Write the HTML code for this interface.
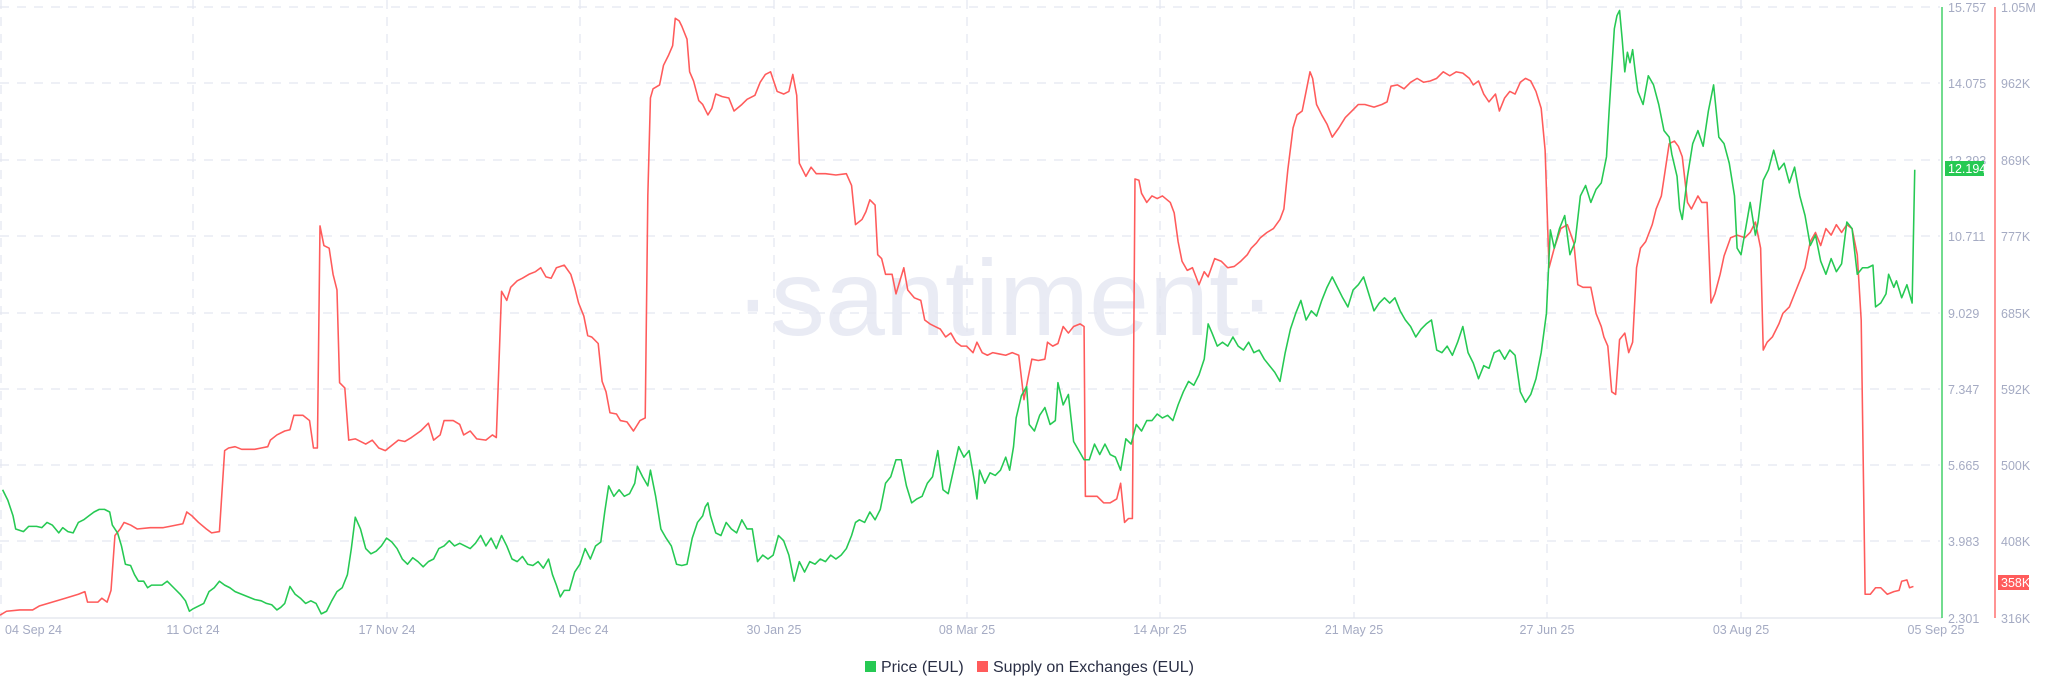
<!DOCTYPE html>
<html><head><meta charset="utf-8"><style>
html,body{margin:0;padding:0;background:#fff;}
svg{display:block;font-family:"Liberation Sans",sans-serif;}
</style></head><body>
<svg width="2048" height="693" viewBox="0 0 2048 693" xmlns="http://www.w3.org/2000/svg">
<text x="1005" y="335" text-anchor="middle" font-size="108" fill="#e9ebf4" font-family="Liberation Sans,sans-serif">·santiment·</text>
<g stroke="#e4e7f0" stroke-width="1.3" stroke-dasharray="9,8" fill="none">
<line x1="0" y1="7" x2="1940" y2="7"/><line x1="0" y1="83" x2="1940" y2="83"/><line x1="0" y1="160" x2="1940" y2="160"/><line x1="0" y1="236" x2="1940" y2="236"/><line x1="0" y1="313" x2="1940" y2="313"/><line x1="0" y1="389" x2="1940" y2="389"/><line x1="0" y1="465" x2="1940" y2="465"/><line x1="0" y1="541" x2="1940" y2="541"/>
<line x1="1" y1="0" x2="1" y2="618"/><line x1="193" y1="0" x2="193" y2="618"/><line x1="387" y1="0" x2="387" y2="618"/><line x1="580" y1="0" x2="580" y2="618"/><line x1="774" y1="0" x2="774" y2="618"/><line x1="967" y1="0" x2="967" y2="618"/><line x1="1160" y1="0" x2="1160" y2="618"/><line x1="1354" y1="0" x2="1354" y2="618"/><line x1="1547" y1="0" x2="1547" y2="618"/><line x1="1741" y1="0" x2="1741" y2="618"/>
</g>
<line x1="0" y1="618" x2="1942" y2="618" stroke="#e0e3ec" stroke-width="1.3"/>
<line x1="1942" y1="7" x2="1942" y2="618" stroke="#26c953" stroke-width="1.3"/>
<line x1="1995" y1="7" x2="1995" y2="618" stroke="#ff5b5b" stroke-width="1.3"/>
<g font-size="12.5" fill="#a5abc3">
<text x="1948" y="12">15.757</text><text x="1948" y="88">14.075</text><text x="1948" y="165">12.393</text><text x="1948" y="241">10.711</text><text x="1948" y="318">9.029</text><text x="1948" y="394">7.347</text><text x="1948" y="470">5.665</text><text x="1948" y="546">3.983</text><text x="1948" y="623">2.301</text>
<text x="2001" y="12">1.05M</text><text x="2001" y="88">962K</text><text x="2001" y="165">869K</text><text x="2001" y="241">777K</text><text x="2001" y="318">685K</text><text x="2001" y="394">592K</text><text x="2001" y="470">500K</text><text x="2001" y="546">408K</text><text x="2001" y="623">316K</text>
<text x="5" y="634">04 Sep 24</text><text x="193" y="634" text-anchor="middle">11 Oct 24</text><text x="387" y="634" text-anchor="middle">17 Nov 24</text><text x="580" y="634" text-anchor="middle">24 Dec 24</text><text x="774" y="634" text-anchor="middle">30 Jan 25</text><text x="967" y="634" text-anchor="middle">08 Mar 25</text><text x="1160" y="634" text-anchor="middle">14 Apr 25</text><text x="1354" y="634" text-anchor="middle">21 May 25</text><text x="1547" y="634" text-anchor="middle">27 Jun 25</text><text x="1741" y="634" text-anchor="middle">03 Aug 25</text><text x="1936" y="634" text-anchor="middle">05 Sep 25</text>
</g>
<rect x="1945" y="161" width="39" height="15" fill="#26c953"/><text x="1948" y="173" font-size="12.5" fill="#fff">12.194</text>
<rect x="1998" y="575" width="31" height="15" fill="#ff5b5b"/><text x="2001" y="587" font-size="12.5" fill="#fff">358K</text>
<g transform="scale(1.3061)" fill="none" stroke-width="1.2" stroke-linejoin="round">
<polyline stroke="#ff5b5b" points="0,471 5,468 15,467 25,467 30,464 40,461 50,458 60,455 65,453 67,461 75,461 78,458 82,461 85,452 88,410 92,405 95,400 100,402 105,405 115,404 125,404 130,403 140,401 143,392 147,395 152,400 158,405 162,408 168,407 172,345 175,343 180,342 185,344 195,344 200,343 205,342 207,337 212,333 218,330 222,329 225,318 232,318 237,322 240,343 243,343 245,173 248,188 252,190 255,210 258,222 260,293 264,297 267,337 272,336 276,338 280,340 285,337 290,343 295,345 300,341 305,337 310,338 315,335 322,330 328,324 332,337 337,333 340,322 347,322 352,325 355,333 360,330 365,336 372,337 377,333 380,335 384,223 388,230 391,220 396,215 400,213 405,210 410,208 414,205 418,212 422,213 426,205 432,203 437,210 440,220 443,232 447,242 450,257 453,258 458,263 461,292 464,300 467,316 472,317 475,322 480,323 485,330 490,322 494,320 496,150 498,75 500,68 505,65 508,50 512,42 515,35 517,14 520,16 522,20 526,30 528,55 531,62 535,77 538,80 542,88 545,83 548,72 553,74 558,75 562,85 568,80 572,76 578,73 582,63 586,57 590,55 595,70 600,72 604,70 607,57 610,73 612,125 617,135 621,128 625,133 632,133 640,134 648,133 652,142 655,172 660,168 663,162 666,153 670,157 672,195 675,198 678,210 683,210 686,225 692,205 695,222 700,228 705,230 708,245 712,248 716,250 720,252 724,258 728,255 732,262 736,265 740,265 745,270 748,262 752,270 756,272 760,270 765,271 770,272 775,270 780,272 784,306 787,290 790,275 795,276 800,275 802,262 806,265 810,263 814,250 818,255 822,250 827,248 830,250 831,380 836,380 840,380 845,385 850,385 855,382 858,370 861,400 864,397 867,397 869,137 872,138 874,148 878,155 882,150 886,152 890,150 896,155 899,163 902,185 905,200 909,207 913,205 918,218 922,208 925,212 930,198 935,200 940,205 945,204 950,200 955,195 958,190 962,186 965,182 970,178 975,175 980,168 983,160 986,130 990,98 993,88 997,85 1000,70 1003,55 1005,60 1008,80 1012,88 1016,95 1020,105 1025,98 1030,90 1035,85 1040,80 1045,80 1052,82 1058,80 1062,78 1065,66 1070,65 1075,68 1080,63 1085,60 1090,63 1095,62 1100,60 1105,55 1110,58 1115,55 1120,56 1125,60 1128,65 1132,62 1136,72 1140,78 1145,72 1148,85 1152,75 1156,70 1160,72 1164,63 1168,60 1172,62 1176,70 1180,83 1183,115 1186,205 1190,190 1195,175 1200,172 1205,186 1208,218 1212,220 1218,220 1222,240 1226,250 1228,258 1231,265 1234,300 1237,302 1240,260 1244,255 1247,270 1250,262 1253,205 1256,190 1260,185 1265,172 1268,160 1272,150 1275,130 1278,110 1282,108 1285,112 1288,120 1292,155 1295,160 1300,150 1303,155 1307,155 1310,232 1313,225 1317,210 1320,196 1325,182 1330,180 1336,182 1340,178 1344,170 1348,190 1350,268 1353,262 1357,258 1362,248 1365,240 1370,235 1374,225 1378,215 1382,205 1386,185 1390,178 1394,188 1398,175 1402,180 1406,172 1410,178 1414,172 1418,175 1422,195 1425,245 1428,455 1432,455 1436,450 1440,450 1445,455 1450,453 1454,452 1456,445 1460,444 1462,450 1465,449"/>
<polyline stroke="#26c953" points="2,375 6,383 10,395 12,405 18,407 22,403 28,403 32,404 36,400 40,402 45,408 48,404 52,407 56,408 60,400 64,398 68,395 72,392 76,390 80,390 84,392 86,402 90,408 93,418 96,432 100,433 103,440 106,445 110,445 113,450 116,448 120,448 124,448 128,445 133,450 138,455 142,460 145,468 148,466 152,464 156,462 160,453 164,450 168,445 172,448 176,450 180,453 185,455 190,457 195,459 200,460 204,462 208,463 212,467 215,465 218,462 222,449 226,455 230,458 234,462 238,460 242,462 246,470 250,468 254,460 258,453 262,450 266,440 269,420 272,396 276,405 280,420 284,424 288,422 292,418 296,412 300,415 304,420 308,428 312,432 316,427 320,430 324,434 328,430 332,428 336,420 340,418 344,414 348,418 352,416 356,418 360,420 364,416 368,410 372,418 376,412 380,420 384,410 388,418 392,428 396,430 400,426 404,432 408,433 412,430 416,435 420,428 423,440 426,448 429,457 432,452 436,452 440,438 444,432 448,420 452,428 456,418 460,415 463,392 466,372 470,380 474,375 478,380 482,378 486,370 488,357 492,365 496,372 498,360 502,380 506,405 510,412 514,418 518,432 522,433 526,432 530,412 534,400 538,395 540,388 542,385 544,395 548,408 552,410 556,400 560,405 564,408 568,398 572,405 576,405 580,430 584,425 588,428 592,425 596,410 600,414 604,425 608,445 612,430 616,438 620,430 624,432 628,428 632,430 636,425 640,428 644,425 648,420 652,410 655,400 658,398 662,400 666,392 670,398 674,390 678,370 682,365 686,352 690,352 694,372 698,385 702,382 706,380 710,370 714,365 718,345 722,375 726,378 730,360 734,342 738,350 742,345 746,368 748,382 750,360 754,370 758,362 762,364 766,360 770,350 773,360 776,342 778,320 782,303 786,296 788,325 792,330 796,318 800,312 804,325 808,322 810,293 814,310 818,302 822,338 826,345 830,352 834,352 838,340 842,348 846,340 850,348 854,350 858,360 862,336 866,340 870,325 874,330 878,322 882,322 886,317 890,320 894,318 898,322 902,310 906,300 910,292 914,295 918,287 922,275 925,248 928,255 932,265 936,262 940,265 944,258 948,265 952,268 956,262 960,270 964,268 968,275 972,280 976,285 980,292 984,270 988,252 992,240 996,230 1000,245 1004,238 1008,242 1012,230 1016,220 1020,212 1024,220 1028,228 1032,235 1036,222 1040,218 1044,212 1048,225 1052,238 1056,232 1060,228 1064,232 1068,228 1072,238 1076,245 1080,250 1084,258 1088,252 1092,248 1096,245 1100,268 1104,270 1108,265 1112,272 1116,262 1120,250 1124,270 1128,278 1132,290 1136,280 1140,282 1144,270 1148,268 1152,275 1156,268 1160,272 1164,300 1168,308 1172,302 1176,290 1180,270 1184,240 1187,176 1190,190 1194,175 1198,165 1202,195 1206,185 1210,150 1214,142 1218,155 1222,145 1226,140 1230,120 1232,85 1236,22 1238,12 1240,8 1242,30 1244,55 1246,40 1248,48 1250,38 1252,55 1254,70 1258,80 1262,58 1266,65 1270,80 1274,100 1278,105 1280,118 1284,135 1286,160 1288,168 1292,135 1296,110 1300,100 1304,112 1308,85 1312,65 1316,105 1320,110 1324,125 1328,150 1330,190 1333,195 1336,178 1340,155 1344,180 1346,170 1350,138 1354,130 1358,115 1362,130 1366,125 1370,140 1374,128 1378,150 1382,165 1386,188 1390,180 1394,200 1398,210 1402,198 1406,208 1410,202 1414,170 1418,175 1422,210 1426,205 1430,205 1434,203 1436,235 1440,232 1444,225 1446,210 1450,220 1452,215 1456,228 1460,218 1464,232 1466,130"/>
</g>
<rect x="865" y="661" width="11" height="11" fill="#26c953"/>
<text x="881" y="672" font-size="16" fill="#2a2f45">Price (EUL)</text>
<rect x="977" y="661" width="11" height="11" fill="#ff5b5b"/>
<text x="993" y="672" font-size="16" fill="#2a2f45">Supply on Exchanges (EUL)</text>
</svg>
</body></html>
